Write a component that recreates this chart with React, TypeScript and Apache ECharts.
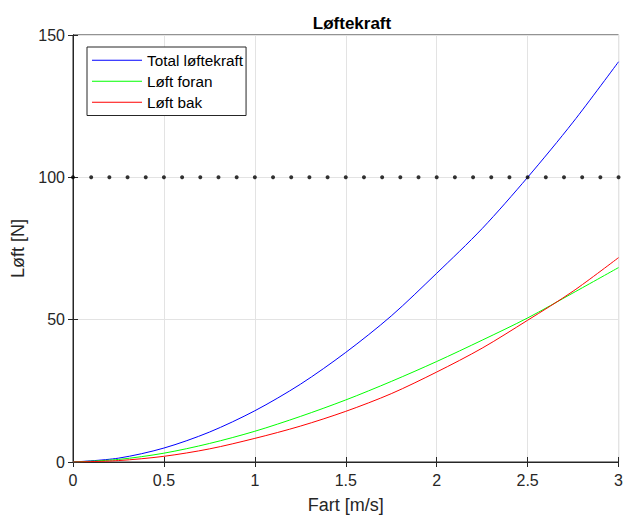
import React, { useEffect, useRef } from "react";
import * as echarts from "echarts";

// Speed [m/s]
const speeds = [0, 0.25, 0.5, 0.75, 1, 1.25, 1.5, 1.75, 2, 2.25, 2.5, 2.75, 3];
// Lift [N]
const totalLift = [0, 1.35, 4.9, 10.5, 18.0, 27.3, 38.5, 51.3, 66.3, 82.0, 100.0, 119.4, 140.6];
const frontLift = [0, 0.9, 3.1, 6.5, 10.8, 16.0, 21.8, 28.3, 35.3, 42.8, 50.6, 59.4, 68.3];
const rearLift = [0, 0.5, 2.0, 4.6, 8.3, 12.6, 17.8, 24.0, 31.6, 40.0, 49.8, 60.0, 71.8];

// Dotted reference line at 100 N
const refX = [0, 0.1, 0.2, 0.3, 0.4, 0.5, 0.6, 0.7, 0.8, 0.9, 1, 1.1, 1.2, 1.3, 1.4, 1.5, 1.6, 1.7, 1.8, 1.9, 2, 2.1, 2.2, 2.3, 2.4, 2.5, 2.6, 2.7, 2.8, 2.9, 3];
const refLevel = 100;

const seriesNames = ["Total løftekraft", "Løft foran", "Løft bak"];
const seriesColors = ["#0000ff", "#00ff00", "#ff0000"];
const FONT = "'Liberation Sans', Arial, Helvetica, sans-serif";
const AX = "#262626";

export default function App() {
  const ref = useRef<HTMLDivElement>(null);
  useEffect(() => {
    if (!ref.current) return;
    const chart = echarts.init(ref.current, undefined, { renderer: "svg" });
    const pair = (ys: number[]) => speeds.map((x, i) => [x, ys[i]]);
    const baseX = { type: "value" as const, min: 0, max: 3, interval: 0.5 };
    const baseY = { type: "value" as const, min: 0, max: 150, interval: 50 };
    const lineSeries = [totalLift, frontLift, rearLift].map((ys, i) => ({
      name: seriesNames[i],
      type: "line",
      data: pair(ys),
      smooth: 0.3,
      symbol: "none",
      showSymbol: false,
      lineStyle: { color: seriesColors[i], width: 1 },
      itemStyle: { color: seriesColors[i] },
    }));
    chart.setOption({
      animation: false,
      backgroundColor: "#ffffff",
      textStyle: { fontFamily: FONT },
      title: {
        text: "Løftekraft",
        left: 347,
        top: 10,
        textAlign: "center",
        textStyle: { fontFamily: FONT, fontSize: 17, fontWeight: "bold", color: "#000" },
      },
      grid: {
        left: 73,
        right: 4,
        top: 35,
        bottom: 53,
        show: true,
        borderColor: AX,
        borderWidth: 1,
        backgroundColor: "#fff",
      },
      legend: {
        data: seriesNames.map((n) => ({ name: n, icon: "rect" })),
        orient: "vertical",
        left: 87,
        top: 47,
        itemWidth: 50,
        itemHeight: 1.2,
        itemGap: 4.5,
        itemTextGap: 5,
        padding: [5, 3, 5, 5],
        backgroundColor: "#fff",
        borderColor: AX,
        borderWidth: 1,
        borderRadius: 0,
        textStyle: { fontFamily: FONT, fontSize: 15.3, color: "#000", lineHeight: 16.5 },
      },
      xAxis: [
        {
          ...baseX,
          position: "bottom",
          name: "Fart [m/s]",
          nameLocation: "middle",
          nameGap: 34,
          nameTextStyle: { fontFamily: FONT, fontSize: 18, color: AX },
          axisLine: { show: true, lineStyle: { color: AX, width: 1 } },
          axisTick: { show: true, inside: true, length: 5, lineStyle: { color: AX } },
          axisLabel: { fontFamily: FONT, fontSize: 16, color: AX, margin: 10 },
          splitLine: { show: true, lineStyle: { color: "#e3e3e3", width: 1 } },
        },
        {
          ...baseX,
          position: "top",
          axisLine: { show: true, lineStyle: { color: AX, width: 1 } },
          axisTick: { show: true, inside: true, length: 5, lineStyle: { color: AX } },
          axisLabel: { show: false },
          splitLine: { show: false },
        },
      ],
      yAxis: [
        {
          ...baseY,
          position: "left",
          name: "Løft [N]",
          nameLocation: "middle",
          nameGap: 36,
          nameTextStyle: { fontFamily: FONT, fontSize: 18, color: AX },
          axisLine: { show: true, lineStyle: { color: AX, width: 1 } },
          axisTick: { show: true, inside: true, length: 5, lineStyle: { color: AX } },
          axisLabel: { fontFamily: FONT, fontSize: 16, color: AX, margin: 8 },
          splitLine: { show: true, lineStyle: { color: "#e3e3e3", width: 1 } },
        },
        {
          ...baseY,
          position: "right",
          axisLine: { show: true, lineStyle: { color: AX, width: 1 } },
          axisTick: { show: true, inside: true, length: 5, lineStyle: { color: AX } },
          axisLabel: { show: false },
          splitLine: { show: false },
        },
      ],
      series: [
        {
          name: "dots",
          type: "scatter",
          data: refX.map((x) => [x, refLevel]),
          symbol: "circle",
          symbolSize: 4,
          itemStyle: { color: "#000" },
          z: 3,
        },
        ...lineSeries,
      ],
    });
    return () => chart.dispose();
  }, []);
  return (
    <div
      ref={ref}
      style={{ position: "fixed", left: 0, top: 0, width: 626, height: 519, background: "#fff" }}
    />
  );
}
